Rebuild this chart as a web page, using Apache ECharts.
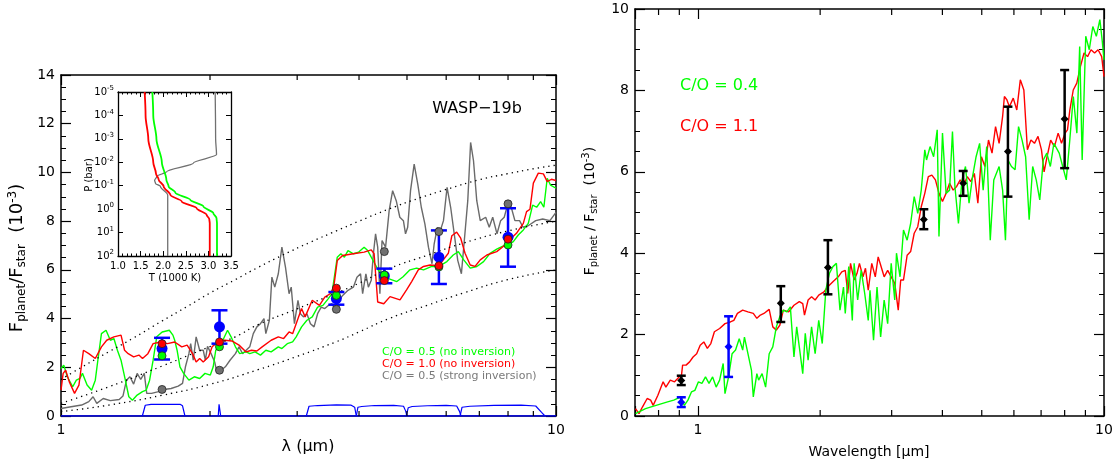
<!DOCTYPE html>
<html><head><meta charset="utf-8">
<script src="https://cdn.jsdelivr.net/npm/echarts@6.0.0/dist/echarts.min.js"></script>
<style>html,body{margin:0;padding:0;background:#fff}#c{width:1117px;height:464px}</style>
</head><body><div id="c"></div>
<script>
// ---------------- LEFT PANEL DATA (wavelength um, Fp/Fs x1e-3) ----------------
const leftRedSpec = [[1.00,1.06],[1.01,1.75],[1.022,1.88],[1.039,1.41],[1.065,0.93],[1.087,1.27],[1.11,2.70],[1.138,2.56],[1.173,2.36],[1.207,2.84],[1.237,3.11],[1.279,3.25],[1.322,3.32],[1.344,2.70],[1.367,2.56],[1.402,2.43],[1.437,2.50],[1.461,2.36],[1.498,2.56],[1.535,2.97],[1.587,3.04],[1.641,2.97],[1.697,3.04],[1.754,2.84],[1.798,2.91],[1.844,2.56],[1.875,2.22],[1.906,2.36],[1.938,2.22],[1.987,2.43],[2.02,2.84],[2.071,3.04],[2.141,3.11],[2.214,3.08],[2.289,2.91],[2.366,2.63],[2.426,2.70],[2.487,2.67],[2.549,2.84],[2.658,3.11],[2.748,3.25],[2.817,3.18],[2.889,3.45],[2.937,3.38],[2.986,3.79],[3.062,4.41],[3.113,4.07],[3.218,4.75],[3.327,4.54],[3.411,4.88],[3.498,5.02],[3.556,5.29],[3.615,6.38],[3.707,6.59],[3.896,6.66],[4.096,6.73],[4.234,6.82],[4.291,6.66],[4.363,4.68],[4.488,4.61],[4.62,4.90],[4.84,4.77],[4.99,5.18],[5.11,5.52],[5.27,6.0],[5.40,6.14],[5.57,6.2],[5.80,6.17],[5.92,6.41],[6.06,6.68],[6.16,7.4],[6.30,7.55],[6.42,7.3],[6.55,6.68],[6.71,6.2],[6.86,6.14],[7.03,6.41],[7.25,6.61],[7.59,6.75],[7.89,7.02],[8.05,7.23],[8.32,7.5],[8.59,7.91],[8.72,8.39],[8.86,8.49],[9.0,9.56],[9.21,9.97],[9.43,9.94],[9.60,9.62],[9.79,9.72],[10.0,9.67]];
const leftGreenSpec = [[1.00,1.95],[1.013,2.09],[1.03,1.61],[1.056,1.20],[1.074,1.47],[1.092,1.54],[1.105,1.75],[1.129,1.27],[1.153,1.06],[1.173,1.47],[1.187,2.29],[1.207,3.38],[1.233,3.52],[1.258,3.11],[1.279,3.18],[1.30,2.70],[1.322,2.29],[1.349,1.47],[1.371,0.79],[1.394,0.65],[1.425,0.86],[1.461,1.0],[1.486,1.06],[1.51,1.47],[1.535,2.29],[1.561,3.25],[1.601,3.45],[1.655,3.52],[1.683,3.32],[1.697,3.11],[1.716,2.70],[1.739,2.02],[1.769,1.75],[1.813,1.47],[1.859,1.61],[1.906,1.54],[1.954,1.75],[2.003,1.68],[2.03,2.02],[2.054,2.70],[2.089,2.84],[2.123,3.11],[2.17,3.52],[2.206,3.25],[2.251,2.84],[2.296,2.56],[2.366,2.63],[2.406,2.56],[2.466,2.63],[2.529,2.50],[2.593,2.70],[2.658,2.63],[2.748,2.84],[2.794,2.77],[2.865,2.97],[2.937,3.04],[2.986,3.25],[3.062,3.66],[3.139,3.93],[3.218,4.07],[3.299,4.47],[3.382,4.54],[3.468,4.82],[3.526,5.02],[3.574,5.84],[3.615,6.52],[3.676,6.66],[3.737,6.52],[3.80,6.79],[3.896,6.66],[3.994,6.73],[4.096,6.93],[4.165,6.79],[4.234,6.52],[4.306,6.25],[4.378,5.98],[4.488,5.77],[4.602,5.63],[4.77,5.52],[4.91,5.72],[5.07,6.0],[5.23,6.07],[5.40,6.0],[5.61,6.14],[5.80,6.14],[6.02,6.34],[6.20,6.61],[6.35,6.75],[6.51,6.41],[6.71,6.07],[6.92,6.14],[7.14,6.34],[7.36,6.68],[7.59,6.85],[7.83,6.98],[8.01,7.02],[8.20,7.16],[8.39,7.43],[8.59,7.64],[8.79,7.91],[8.97,8.66],[9.14,8.57],[9.31,8.80],[9.45,8.57],[9.60,9.76],[9.75,9.48],[10.0,9.35]];
const leftGraySpec = [[1.00,0.31],[1.048,0.38],[1.101,0.45],[1.138,0.59],[1.161,0.79],[1.181,0.52],[1.217,0.72],[1.258,0.63],[1.311,0.68],[1.334,0.82],[1.356,1.47],[1.378,1.61],[1.402,1.31],[1.425,1.75],[1.449,1.50],[1.473,1.75],[1.49,0.93],[1.524,0.93],[1.574,1.0],[1.614,1.09],[1.669,1.13],[1.725,1.23],[1.76,1.34],[1.784,2.02],[1.813,2.56],[1.828,2.97],[1.85,2.29],[1.875,3.25],[1.906,2.70],[1.938,2.70],[1.957,2.29],[1.977,2.86],[2.01,2.56],[2.044,2.22],[2.064,1.81],[2.106,1.88],[2.148,2.02],[2.195,2.29],[2.251,2.56],[2.289,2.84],[2.327,2.56],[2.366,2.70],[2.406,2.84],[2.446,3.38],[2.487,3.66],[2.529,3.79],[2.571,4.0],[2.593,3.38],[2.636,3.93],[2.667,5.70],[2.703,5.29],[2.748,5.84],[2.794,6.93],[2.841,6.11],[2.889,5.02],[2.918,5.29],[2.962,3.79],[3.011,4.75],[3.046,4.20],[3.088,4.07],[3.139,4.20],[3.191,3.79],[3.245,3.66],[3.299,4.20],[3.355,4.47],[3.411,4.41],[3.468,4.54],[3.526,4.61],[3.585,4.34],[3.646,4.75],[3.707,4.95],[3.80,5.16],[3.896,5.29],[3.962,5.70],[4.028,5.84],[4.068,5.02],[4.13,5.84],[4.178,5.29],[4.234,5.57],[4.277,6.66],[4.32,7.48],[4.363,6.93],[4.408,5.02],[4.452,7.20],[4.526,6.93],[4.602,8.43],[4.677,9.25],[4.756,8.84],[4.836,8.16],[4.917,8.02],[4.966,7.48],[5.016,7.75],[5.083,9.25],[5.17,10.34],[5.257,9.52],[5.344,8.57],[5.434,7.89],[5.525,6.93],[5.617,6.25],[5.674,7.07],[5.76,7.75],[5.826,7.55],[5.925,8.02],[6.025,9.39],[6.126,8.57],[6.229,7.48],[6.333,6.38],[6.44,5.84],[6.546,7.48],[6.634,8.84],[6.722,11.23],[6.813,10.48],[6.917,8.84],[7.03,8.02],[7.21,8.16],[7.33,7.75],[7.45,8.16],[7.60,7.48],[7.73,8.02],[7.86,8.16],[7.99,8.70],[8.12,8.57],[8.26,8.02],[8.44,8.02],[8.58,7.75],[8.80,7.82],[9.10,8.02],[9.40,8.09],[9.72,8.02],[10.0,8.36]];
const bbTop = [[1.0,1.5],[1.1,2.0],[1.25,2.64],[1.4,3.2],[1.6,3.9],[1.8,4.5],[2.0,5.05],[2.25,5.6],[2.5,6.1],[2.8,6.6],[3.2,7.15],[3.6,7.6],[4.0,8.0],[4.6,8.5],[5.3,8.95],[6.0,9.3],[7.0,9.7],[8.0,9.95],[9.0,10.15],[10.0,10.3]];
const bbMid = [[1.0,0.52],[1.25,1.2],[1.6,2.05],[2.0,2.85],[2.25,3.25],[2.5,3.75],[3.0,4.4],[3.6,5.05],[4.0,5.45],[4.6,6.05],[5.5,6.6],[6.5,7.1],[8.0,7.6],[10.0,8.0]];
const bbLow = [[1.0,0.18],[1.25,0.45],[1.6,0.85],[2.0,1.3],[2.5,1.9],[3.0,2.45],[3.6,3.05],[4.0,3.45],[4.6,4.0],[5.5,4.55],[6.5,5.05],[8.0,5.6],[10.0,6.0]];
const filterBase = [[1.0,0],[10.0,0]];
const filterH = [[1.46,0],[1.48,0.44],[1.52,0.48],[1.74,0.48],[1.76,0.42],[1.78,0]];
const filterK = [[2.078,0],[2.086,0.48],[2.094,0.48],[2.102,0]];
const filterI1 = [[3.13,0],[3.17,0.40],[3.3,0.43],[3.6,0.46],[3.85,0.45],[3.92,0.36],[3.95,0]];
const filterI2 = [[3.95,0],[3.98,0.36],[4.05,0.39],[4.3,0.43],[4.7,0.44],[4.92,0.40],[4.97,0.2],[5.0,0]];
const filterI3 = [[4.98,0],[5.03,0.34],[5.12,0.39],[5.5,0.42],[6.0,0.44],[6.3,0.41],[6.38,0.2],[6.43,0]];
const filterI4 = [[6.40,0],[6.46,0.36],[6.7,0.40],[7.5,0.44],[8.5,0.45],[9.1,0.41],[9.35,0.15],[9.5,0]];
const obsLam = [1.6, 2.09, 3.6, 4.5, 5.8, 8.0];
const obsVal = [2.77, 3.66, 4.82, 5.75, 6.52, 7.34];
const obsLo  = [2.32, 2.97, 4.57, 5.45, 5.42, 6.13];
const obsHi  = [3.21, 4.34, 5.09, 6.05, 7.62, 8.53];
const modGreen = [2.47, 2.84, 4.95, 5.79, 6.12, 7.02];
const modRed   = [2.97, 3.04, 5.25, 5.56, 6.17, 7.26];
const modGray  = [1.09, 1.88, 4.38, 6.75, 7.57, 8.71];
// ---------------- INSET DATA (T in 1000 K, P in bar) ----------------
const insetRed = [[1.59,1e-5],[1.61,1e-4],[1.67,1e-3],[1.78,1e-2],[1.84,0.03],[1.90,0.055],[2.01,0.107],[2.16,0.25],[2.41,0.47],[2.74,0.91],[2.96,1.74],[3.02,2.7],[3.03,4],[3.03,100]];
const insetGreen = [[1.76,1e-5],[1.78,1e-4],[1.85,1e-3],[1.97,1e-2],[2.07,0.055],[2.12,0.107],[2.27,0.2],[2.6,0.4],[2.89,0.78],[3.11,1.48],[3.18,2.45],[3.19,4],[3.19,100]];
const insetGray = [[3.15,1e-5],[3.16,1e-3],[3.18,4.7e-3],[2.67,0.0107],[2.08,0.025],[1.86,0.04],[1.81,0.059],[1.83,0.08],[1.94,0.107],[2.1,0.25],[2.1,100]];
// ---------------- RIGHT PANEL DATA ----------------
const rightRedSpec = [[0.702,0.18],[0.716,0.06],[0.73,0.22],[0.75,0.43],[0.765,0.39],[0.776,0.26],[0.797,0.51],[0.821,0.84],[0.834,0.71],[0.855,0.88],[0.876,0.84],[0.899,0.96],[0.911,1.0],[0.917,1.25],[0.935,1.25],[0.954,1.33],[0.973,1.45],[0.993,1.53],[1.013,1.74],[1.034,1.82],[1.055,1.66],[1.076,1.78],[1.098,2.07],[1.131,2.15],[1.166,2.27],[1.202,2.31],[1.226,2.35],[1.251,2.52],[1.289,2.60],[1.328,2.56],[1.369,2.52],[1.397,2.40],[1.425,2.48],[1.454,2.52],[1.498,2.62],[1.529,2.19],[1.56,2.11],[1.591,2.23],[1.623,2.60],[1.673,2.56],[1.724,2.72],[1.777,2.81],[1.812,2.76],[1.83,2.48],[1.868,2.85],[1.905,2.93],[1.944,2.85],[1.984,2.97],[2.044,3.05],[2.086,3.17],[2.15,3.30],[2.216,3.42],[2.261,3.54],[2.306,3.58],[2.339,3.01],[2.376,3.75],[2.425,3.34],[2.464,3.50],[2.499,3.75],[2.55,3.42],[2.586,3.63],[2.627,3.09],[2.68,3.75],[2.734,3.42],[2.779,3.91],[2.818,3.71],[2.875,3.42],[2.933,3.58],[2.992,3.42],[3.053,3.26],[3.114,2.60],[3.158,3.34],[3.208,3.34],[3.275,3.95],[3.341,4.04],[3.409,4.49],[3.478,4.65],[3.548,5.14],[3.62,5.47],[3.693,5.88],[3.768,5.92],[3.845,5.80],[3.923,5.47],[4.002,5.27],[4.084,5.47],[4.166,5.72],[4.251,5.55],[4.337,5.64],[4.425,5.80],[4.514,5.68],[4.606,5.88],[4.699,5.76],[4.794,5.96],[4.891,5.23],[4.99,6.37],[5.091,6.13],[5.195,6.78],[5.30,6.46],[5.407,7.11],[5.517,6.70],[5.628,7.36],[5.685,7.85],[5.765,7.77],[5.848,7.60],[5.977,7.81],[6.099,7.52],[6.222,8.26],[6.348,8.01],[6.477,6.54],[6.608,6.78],[6.742,6.70],[6.879,6.87],[7.015,6.54],[7.12,6.0],[7.24,6.37],[7.39,6.78],[7.55,6.62],[7.71,6.95],[7.86,6.70],[8.02,6.95],[8.13,7.03],[8.24,7.52],[8.40,8.01],[8.57,8.18],[8.75,8.59],[8.93,8.92],[9.11,8.83],[9.29,9.0],[9.48,8.92],[9.67,9.0],[9.87,8.83],[10.0,8.34]];
const rightGreenSpec = [[0.702,0.06],[0.743,0.18],[0.789,0.26],[0.838,0.34],[0.872,0.39],[0.908,0.47],[0.926,0.26],[0.945,0.39],[0.964,0.59],[0.983,0.63],[1.003,0.84],[1.023,0.80],[1.044,0.96],[1.065,0.80],[1.087,0.96],[1.109,0.71],[1.131,0.88],[1.154,1.29],[1.166,0.55],[1.19,0.96],[1.214,1.53],[1.238,1.62],[1.264,1.90],[1.289,1.62],[1.302,1.94],[1.328,1.53],[1.355,1.12],[1.369,0.47],[1.397,1.04],[1.411,0.88],[1.439,1.04],[1.468,0.71],[1.498,1.53],[1.529,1.70],[1.56,2.19],[1.591,2.44],[1.623,2.60],[1.656,2.56],[1.689,2.68],[1.724,1.45],[1.751,2.19],[1.777,1.70],[1.812,1.04],[1.838,2.03],[1.868,1.37],[1.905,2.19],[1.944,1.53],[1.984,2.35],[2.024,1.78],[2.065,3.09],[2.107,3.50],[2.15,3.67],[2.193,3.75],[2.238,2.60],[2.283,3.17],[2.306,2.52],[2.352,3.67],[2.40,2.35],[2.425,3.75],[2.474,2.85],[2.524,3.58],[2.575,3.01],[2.627,2.35],[2.653,3.09],[2.707,1.86],[2.761,3.17],[2.818,1.94],[2.875,2.85],[2.933,2.27],[2.992,3.75],[3.053,2.85],[3.083,4.0],[3.146,3.42],[3.208,4.57],[3.275,4.32],[3.341,4.73],[3.409,5.39],[3.478,4.98],[3.548,5.55],[3.62,6.54],[3.656,6.29],[3.73,6.62],[3.806,6.37],[3.884,7.03],[3.923,4.41],[4.002,6.95],[4.084,5.47],[4.166,5.55],[4.235,6.99],[4.294,5.64],[4.381,4.73],[4.469,5.80],[4.559,6.13],[4.652,5.23],[4.746,5.88],[4.842,6.37],[4.94,6.70],[5.04,5.55],[5.142,6.62],[5.247,4.32],[5.353,5.80],[5.517,6.13],[5.628,5.55],[5.719,4.32],[5.80,6.29],[5.917,6.13],[6.04,6.05],[6.16,7.11],[6.285,6.78],[6.412,6.37],[6.542,4.82],[6.674,6.13],[6.81,5.80],[6.947,5.31],[7.088,6.29],[7.231,6.46],[7.377,6.13],[7.526,6.70],[7.757,6.46],[7.913,6.13],[8.073,5.80],[8.237,6.78],[8.403,7.85],[8.574,6.95],[8.712,9.08],[8.836,6.29],[9.017,9.33],[9.199,9.0],[9.385,9.57],[9.575,9.33],[9.769,9.74],[9.892,9.25],[10.0,8.75]];
const rBlackLam = [0.91, 1.6, 2.09, 3.6, 4.5, 5.8, 8.0];
const rBlackVal = [0.87, 2.77, 3.65, 4.83, 5.72, 6.50, 7.30];
const rBlackLo  = [0.76, 2.31, 2.99, 4.59, 5.41, 5.39, 6.09];
const rBlackHi  = [0.99, 3.19, 4.32, 5.08, 6.02, 7.60, 8.50];
const rBlueLam = [0.91, 1.19];
const rBlueVal = [0.34, 1.70];
const rBlueLo  = [0.22, 0.96];
const rBlueHi  = [0.46, 2.45];
// ---------------- TICK VALUES / LABELS ----------------
const leftMinorX = [2,3,4,5,6,7,8,9];
const rightMinorX = [0.8,0.9,2,3,4,5,6,7,8,9];
const legendLeft = ['C/O = 0.5 (no inversion)', 'C/O = 1.0 (no inversion)', 'C/O = 0.5 (strong inversion)'];
const legendRight = ['C/O = 0.4', 'C/O = 1.1'];

const FONT = 'DejaVu Sans';
const GREEN = '#00ff00', RED = '#ff0000', GRAY = '#6a6a6a', BLUE = '#0000ff';

function logLabel(v){ if (Math.abs(v-1)<1e-6) return '1'; if (Math.abs(v-10)<1e-6) return '10'; return ''; }
function mainX(grid, min, max, pos, showLabel){
  return {type:'log', logBase:10, gridIndex:grid, min:min, max:max, position:pos,
    axisLine:{show:true, onZero:false, lineStyle:{color:'#000', width:1.5}},
    axisTick:{show:true, inside:true, length:10, lineStyle:{color:'#000', width:1.2}},
    axisLabel:{show:showLabel, color:'#000', fontSize:14, fontFamily:FONT, margin:7, formatter:logLabel, hideOverlap:false},
    splitLine:{show:false}};
}
function mainY(grid, max, pos, showLabel){
  return {type:'value', gridIndex:grid, min:0, max:max, interval:2, position:pos,
    axisLine:{show:true, onZero:false, lineStyle:{color:'#000', width:1.5}},
    axisTick:{show:true, inside:true, length:10, lineStyle:{color:'#000', width:1.2}},
    minorTick:{show:true, splitNumber:4, length:5, lineStyle:{color:'#000', width:1}},
    axisLabel:{show:showLabel, color:'#000', fontSize:14, fontFamily:FONT, margin:6},
    splitLine:{show:false}, minorSplitLine:{show:false}};
}
function lineS(data, xi, yi, color, width, extra){
  return Object.assign({type:'line', data:data, xAxisIndex:xi, yAxisIndex:yi, showSymbol:false, symbol:'none',
    lineStyle:{color:color, width:width}, itemStyle:{color:color}, animation:false, silent:true}, extra||{});
}
function tickSeries(xi, yi, vals, ymin, ymax, len){
  return {type:'custom', xAxisIndex:xi, yAxisIndex:yi, silent:true, clip:false, animation:false, z:6,
    data: vals.map(v => [v, ymin]),
    renderItem: function(params, api){
      const b = api.coord([api.value(0), ymin]);
      const t = api.coord([api.value(0), ymax]);
      return {type:'group', children:[
        {type:'line', shape:{x1:b[0], y1:b[1], x2:b[0], y2:b[1]-len}, style:{stroke:'#000', lineWidth:1.2}},
        {type:'line', shape:{x1:t[0], y1:t[1], x2:t[0], y2:t[1]+len}, style:{stroke:'#000', lineWidth:1.2}}
      ]};
    }};
}
function errSeries(xi, yi, lam, lo, hi, color, cap, lw){
  return {type:'custom', xAxisIndex:xi, yAxisIndex:yi, silent:true, animation:false, z:7,
    data: lam.map((l,i) => [l, lo[i], hi[i]]),
    encode:{x:0, y:[1,2]},
    renderItem: function(params, api){
      const p1 = api.coord([api.value(0), api.value(1)]);
      const p2 = api.coord([api.value(0), api.value(2)]);
      const st = {stroke:color, lineWidth:lw};
      return {type:'group', children:[
        {type:'line', shape:{x1:p1[0], y1:p1[1], x2:p2[0], y2:p2[1]}, style:st},
        {type:'line', shape:{x1:p1[0]-cap, y1:p1[1], x2:p1[0]+cap, y2:p1[1]}, style:st},
        {type:'line', shape:{x1:p2[0]-cap, y1:p2[1], x2:p2[0]+cap, y2:p2[1]}, style:st}
      ]};
    }};
}
function scatterS(xi, yi, lam, vals, color, symbol, size, border){
  return {type:'scatter', xAxisIndex:xi, yAxisIndex:yi, silent:true, animation:false, z:8,
    data: lam.map((l,i) => [l, vals[i]]), symbol:symbol, symbolSize:size,
    itemStyle:{color:color, borderColor:border||color, borderWidth:border?0.8:0, opacity:1}};
}
const subRich = function(sz, pad){ return {
  sub:{fontSize:sz, fontFamily:FONT, fill:'#000', padding:[pad,0,0,0]},
  sup:{fontSize:sz, fontFamily:FONT, fill:'#000', padding:[0,0,pad,0]} }; };

const option = {
  animation:false,
  backgroundColor:'#fff',
  grid:[
    {left:61, top:75, width:495, height:341},
    {left:635, top:9, width:469, height:407},
    {left:118, top:92, width:113, height:164}
  ],
  xAxis:[
    mainX(0,1,10,'bottom',true),
    mainX(0,1,10,'top',false),
    mainX(1,0.7,10,'bottom',true),
    mainX(1,0.7,10,'top',false),
    {type:'value', gridIndex:2, min:1, max:3.5, interval:0.5, position:'bottom',
      axisLine:{show:true, onZero:false, lineStyle:{color:'#000', width:1.3}},
      axisTick:{show:true, inside:true, length:5, lineStyle:{color:'#000', width:1}},
      minorTick:{show:true, splitNumber:5, length:2.5, lineStyle:{color:'#000', width:1}},
      axisLabel:{color:'#000', fontSize:10, fontFamily:FONT, margin:5, formatter:v => v.toFixed(1)},
      splitLine:{show:false}},
    {type:'value', gridIndex:2, min:1, max:3.5, interval:0.5, position:'top',
      axisLine:{show:true, onZero:false, lineStyle:{color:'#000', width:1.3}},
      axisTick:{show:true, inside:true, length:5, lineStyle:{color:'#000', width:1}},
      minorTick:{show:true, splitNumber:5, length:2.5, lineStyle:{color:'#000', width:1}},
      axisLabel:{show:false}, splitLine:{show:false}}
  ],
  yAxis:[
    mainY(0,14,'left',true),
    mainY(0,14,'right',false),
    mainY(1,10,'left',true),
    mainY(1,10,'right',false),
    {type:'log', logBase:10, gridIndex:2, min:1e-5, max:100, inverse:true, position:'left',
      axisLine:{show:true, onZero:false, lineStyle:{color:'#000', width:1.3}},
      axisTick:{show:true, inside:true, length:5, lineStyle:{color:'#000', width:1}},
      axisLabel:{color:'#000', fontSize:10, fontFamily:FONT, margin:4,
        formatter: v => '10{s|' + Math.round(Math.log10(v)) + '}',
        rich:{s:{fontSize:7, fontFamily:FONT, color:'#000', padding:[0,0,7,0]}}},
      splitLine:{show:false}},
    {type:'log', logBase:10, gridIndex:2, min:1e-5, max:100, inverse:true, position:'right',
      axisLine:{show:true, onZero:false, lineStyle:{color:'#000', width:1.3}},
      axisTick:{show:true, inside:true, length:5, lineStyle:{color:'#000', width:1}},
      axisLabel:{show:false}, splitLine:{show:false}}
  ],
  series:[
    // left panel spectra
    lineS(leftGraySpec,0,0,GRAY,1.4),
    lineS(leftGreenSpec,0,0,GREEN,1.4),
    lineS(leftRedSpec,0,0,RED,1.4),
    lineS(bbTop,0,0,'#000',1.3,{smooth:true, lineStyle:{color:'#000', width:1.3, type:[1.3,4]}}),
    lineS(bbMid,0,0,'#000',1.3,{smooth:true, lineStyle:{color:'#000', width:1.3, type:[1.3,4]}}),
    lineS(bbLow,0,0,'#000',1.3,{smooth:true, lineStyle:{color:'#000', width:1.3, type:[1.3,4]}}),
    lineS(filterBase,0,0,BLUE,1.4),
    lineS(filterH,0,0,BLUE,1.2),
    lineS(filterK,0,0,BLUE,1.2),
    lineS(filterI1,0,0,BLUE,1.2),
    lineS(filterI2,0,0,BLUE,1.2),
    lineS(filterI3,0,0,BLUE,1.2),
    lineS(filterI4,0,0,BLUE,1.2),
    tickSeries(0,0,leftMinorX,0,14,5),
    errSeries(0,0,obsLam,obsLo,obsHi,BLUE,8,2.5),
    scatterS(0,0,obsLam,obsVal,BLUE,'circle',11),
    scatterS(0,0,obsLam,modGray,'#707070','circle',8,'#222'),
    scatterS(0,0,obsLam,modGreen,GREEN,'circle',8,'#222'),
    scatterS(0,0,obsLam,modRed,RED,'circle',8,'#222'),
    // inset
    lineS(insetGray,4,4,'#707070',1.3,{smooth:0.3, smoothMonotone:'y'}),
    lineS(insetGreen,4,4,GREEN,1.8,{smooth:0.3, smoothMonotone:'y'}),
    lineS(insetRed,4,4,RED,1.8,{smooth:0.3, smoothMonotone:'y'}),
    // right panel
    lineS(rightRedSpec,2,2,RED,1.4),
    lineS(rightGreenSpec,2,2,GREEN,1.4),
    tickSeries(2,2,rightMinorX,0,10,6),
    errSeries(2,2,rBlackLam,rBlackLo,rBlackHi,'#000',4.5,2.5),
    errSeries(2,2,rBlueLam,rBlueLo,rBlueHi,BLUE,4.5,2.5),
    scatterS(2,2,rBlackLam,rBlackVal,'#000','diamond',8),
    scatterS(2,2,rBlueLam,rBlueVal,BLUE,'diamond',8)
  ],
  graphic:[
    {type:'text', x:17, y:258, rotation:Math.PI/2, style:{text:'F{sub|planet}/F{sub|star}  (10{sup|-3})', fontSize:18, fontFamily:FONT, fill:'#000', align:'center', verticalAlign:'middle', rich:subRich(12,9)}},
    {type:'text', x:308, y:447, style:{text:'λ (μm)', fontSize:16, fontFamily:FONT, fill:'#000', align:'center', verticalAlign:'middle'}},
    {type:'text', x:477, y:109, style:{text:'WASP−19b', fontSize:16, fontFamily:FONT, fill:'#000', align:'center', verticalAlign:'middle'}},
    {type:'text', x:382, y:352, style:{text:legendLeft[0], fontSize:11, fontFamily:FONT, fill:GREEN, align:'left', verticalAlign:'middle'}},
    {type:'text', x:382, y:364, style:{text:legendLeft[1], fontSize:11, fontFamily:FONT, fill:RED, align:'left', verticalAlign:'middle'}},
    {type:'text', x:382, y:376, style:{text:legendLeft[2], fontSize:11, fontFamily:FONT, fill:'#7a7a7a', align:'left', verticalAlign:'middle'}},
    {type:'text', x:89, y:175, rotation:Math.PI/2, style:{text:'P (bar)', fontSize:10, fontFamily:FONT, fill:'#000', align:'center', verticalAlign:'middle'}},
    {type:'text', x:175, y:278, style:{text:'T (1000 K)', fontSize:10, fontFamily:FONT, fill:'#000', align:'center', verticalAlign:'middle'}},
    {type:'text', x:590, y:211, rotation:Math.PI/2, style:{text:'F{sub|planet} / F{sub|star}  (10{sup|-3})', fontSize:14, fontFamily:FONT, fill:'#000', align:'center', verticalAlign:'middle', rich:subRich(10,8)}},
    {type:'text', x:869, y:452, style:{text:'Wavelength [μm]', fontSize:14, fontFamily:FONT, fill:'#000', align:'center', verticalAlign:'middle'}},
    {type:'text', x:680, y:86, style:{text:legendRight[0], fontSize:16, fontFamily:FONT, fill:GREEN, align:'left', verticalAlign:'middle'}},
    {type:'text', x:680, y:127, style:{text:legendRight[1], fontSize:16, fontFamily:FONT, fill:RED, align:'left', verticalAlign:'middle'}}
  ]
};
const chart = echarts.init(document.getElementById('c'), null, {renderer:'canvas'});
chart.setOption(option);
</script>
</body></html>
